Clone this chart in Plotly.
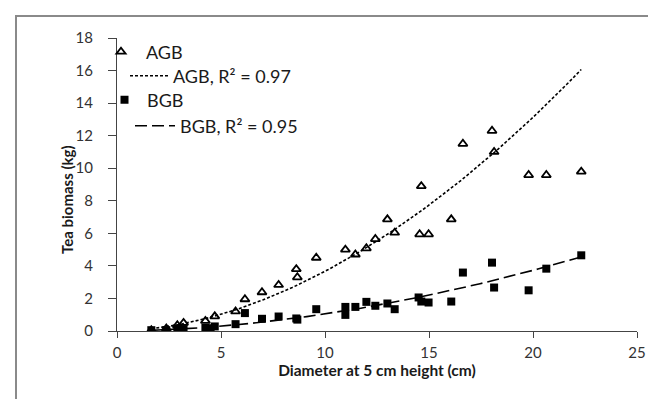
import numpy as np
import plotly.graph_objects as go

# ---- data ----
agb_x = [1.65, 2.37, 2.9, 3.2, 4.25, 4.7, 5.7, 6.15, 6.97, 7.77, 8.62, 8.67, 9.58,
         10.98, 11.46, 11.99, 12.42, 13.0, 13.35, 14.55, 14.63, 14.98, 16.07, 16.63,
         18.03, 18.13, 19.79, 20.64, 22.32]
agb_y = [0.05, 0.15, 0.35, 0.5, 0.62, 0.9, 1.2, 1.95, 2.38, 2.83, 3.8, 3.3, 4.5,
         5.0, 4.7, 5.08, 5.65, 6.86, 6.04, 5.94, 8.9, 5.94, 6.86, 11.5,
         12.3, 11.0, 9.58, 9.58, 9.79]

bgb_x = [1.65, 2.37, 2.9, 3.2, 4.25, 4.5, 4.7, 5.7, 6.15, 6.97, 7.77, 8.62, 8.67,
         9.58, 10.98, 10.98, 11.46, 11.99, 12.42, 13.0, 13.35, 14.5, 14.63, 14.98,
         16.07, 16.63, 18.03, 18.13, 19.79, 20.64, 22.32]
bgb_y = [0.05, 0.05, 0.15, 0.12, 0.2, 0.17, 0.28, 0.42, 1.1, 0.75, 0.89, 0.77, 0.7,
         1.34, 1.48, 0.99, 1.48, 1.79, 1.55, 1.69, 1.34, 2.06, 1.81, 1.75,
         1.81, 3.59, 4.2, 2.67, 2.5, 3.83, 4.65]

# power trendlines y = a * x^b
agb_fit = (0.053, 1.84)
bgb_fit = (0.0155, 1.83)

x_ticks = [0, 5, 10, 15, 20, 25]
y_ticks = [0, 2, 4, 6, 8, 10, 12, 14, 16, 18]

FONT = "Lato"

def curve(xs, fit):
    xx = np.linspace(min(xs), max(xs), 120)
    return xx, fit[0] * xx ** fit[1]

fig = go.Figure()

fig.add_trace(go.Scatter(
    x=agb_x, y=agb_y, mode="markers", name="AGB",
    marker=dict(symbol="triangle-up-open", size=8, color="black", line=dict(width=1.8, color="black")),
    legend="legend"))
ax, ay = curve(agb_x, agb_fit)
fig.add_trace(go.Scatter(
    x=ax, y=ay, mode="lines", name="AGB, R² = 0.97",
    line=dict(color="black", width=1.6, dash="3px,2px"),
    legend="legend2"))
fig.add_trace(go.Scatter(
    x=bgb_x, y=bgb_y, mode="markers", name="BGB",
    marker=dict(symbol="square", size=8, color="black"),
    legend="legend3"))
bx, by = curve(bgb_x, bgb_fit)
fig.add_trace(go.Scatter(
    x=bx, y=by, mode="lines", name="BGB, R² = 0.95",
    line=dict(color="black", width=1.6, dash="12px,5px"),
    legend="legend4"))

def py(pix):  # paper y from pixel y
    return (323 - pix) / 293

def px(pix):
    return (pix - 109) / 520

def leg(x, y, iw):
    return dict(x=px(x), y=py(y), bgcolor="rgba(0,0,0,0)",
                font=dict(family=FONT, size=18, color="#1a1a1a"),
                xanchor="left", yanchor="middle", tracegroupgap=0, itemwidth=iw)

fig.update_layout(
    width=656, height=399,
    margin=dict(l=109, r=27, t=30, b=76),
    paper_bgcolor="white", plot_bgcolor="white",
    showlegend=True,
    legend=leg(88, 44, 40),
    legend2=leg(117, 68, 38),
    legend3=leg(94, 92, 35),
    legend4=leg(122, 118, 40),
    xaxis=dict(range=[0, 25], tickvals=x_ticks, showline=True, linecolor="#444", linewidth=1,
               ticks="outside", ticklen=6, tickcolor="#444", showgrid=False, zeroline=False,
               tickfont=dict(family=FONT, size=15, color="#333"), ticklabelstandoff=2,
               title=dict(text="<b>Diameter at 5 cm height (cm)</b>",
                          font=dict(family=FONT, size=15.5, color="#1a1a1a"), standoff=0)),
    yaxis=dict(range=[0, 18], tickvals=y_ticks, showline=True, linecolor="#444", linewidth=1,
               ticks="outside", ticklen=8, tickcolor="#444", showgrid=False, zeroline=False,
               tickfont=dict(family=FONT, size=15, color="#333"), ticklabelstandoff=12),
    annotations=[dict(text="<b>Tea biomass (kg)</b>", textangle=-90, showarrow=False,
                      xref="paper", yref="paper", x=px(59), y=py(192),
                      xanchor="center", yanchor="middle",
                      font=dict(family=FONT, size=15, color="#1a1a1a"))],
    shapes=[dict(type="rect", xref="paper", yref="paper",
                 x0=px(8), x1=px(760), y0=py(500), y1=py(8),
                 line=dict(color="#8a8a8a", width=2), fillcolor="rgba(0,0,0,0)", layer="below")],
)

fig.write_html("out.html")
